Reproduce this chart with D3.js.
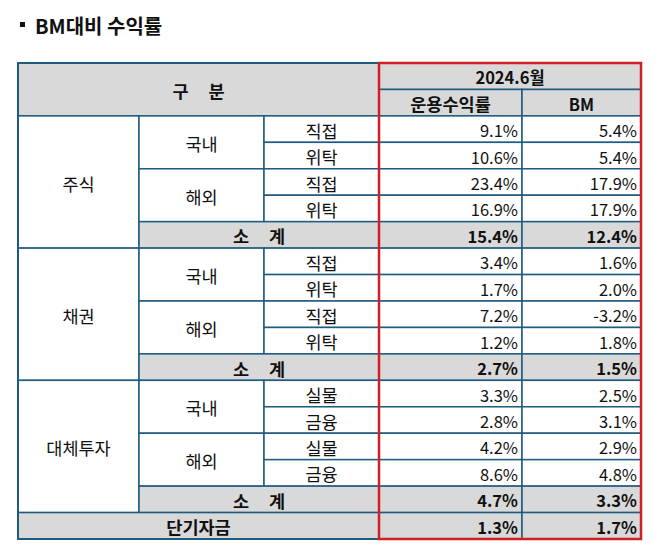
<!DOCTYPE html>
<html>
<head>
<meta charset="utf-8">
<script src="https://cdn.jsdelivr.net/npm/d3@7"></script>
<style>
  body { margin: 0; background: #fff; }
  svg { display: block; font-family: "Noto Sans CJK KR", "Noto Sans", sans-serif; }
</style>
</head>
<body>
<svg id="chart" width="658" height="552"></svg>
<script>
const title = "BM대비 수익률";
const period = "2024.6월";
const valueHeaders = ["운용수익률", "BM"];

// one entry per body row
const assetGroups = ["주식", "주식", "주식", "주식", "주식",
  "채권", "채권", "채권", "채권", "채권",
  "대체투자", "대체투자", "대체투자", "대체투자", "대체투자",
  "단기자금"];
const regions = ["국내", "국내", "해외", "해외", "소계",
  "국내", "국내", "해외", "해외", "소계",
  "국내", "국내", "해외", "해외", "소계",
  ""];
const methods = ["직접", "위탁", "직접", "위탁", "",
  "직접", "위탁", "직접", "위탁", "",
  "실물", "금융", "실물", "금융", "",
  ""];
const returns = [9.1, 10.6, 23.4, 16.9, 15.4, 3.4, 1.7, 7.2, 1.2, 2.7, 3.3, 2.8, 4.2, 8.6, 4.7, 1.3];
const bm = [5.4, 5.4, 17.9, 17.9, 12.4, 1.6, 2.0, -3.2, 1.8, 1.5, 2.5, 3.1, 2.9, 4.8, 3.3, 1.7];

const svg = d3.select("#chart");
const gray = "#d9d9d9";
const lineColor = "#1d5b80";
const red = "#d11f26";
const nb = "\u00a0";

// column edges
const colEdges = [18, 139, 264, 379, 522, 641];
const col = d3.scaleOrdinal().domain(d3.range(6)).range(colEdges);

// rows: 2 header rows + body rows
const nRows = 2 + returns.length;
const y = d3.scaleBand().domain(d3.range(nRows)).range([63, 539]);
const rh = y.bandwidth();

// title
svg.append("rect").attr("x", 20).attr("y", 22).attr("width", 5).attr("height", 5).attr("fill", "#111");
svg.append("text").attr("x", 35).attr("y", 25)
  .attr("dominant-baseline", "central")
  .attr("font-size", 20).attr("font-weight", "bold").attr("fill", "#111")
  .text(title);

// build cells
const cells = [];
function cell(c0, c1, r0, r1, text, opts) {
  cells.push(Object.assign({ c0, c1, r0, r1, text, fill: "#fff", bold: false, align: "middle" }, opts || {}));
}

cell(0, 3, 0, 2, "구" + nb.repeat(5) + "분", { fill: gray, bold: true });
cell(3, 5, 0, 1, period, { fill: gray, bold: true });
cell(3, 4, 1, 2, valueHeaders[0], { fill: gray, bold: true });
cell(4, 5, 1, 2, valueHeaders[1], { fill: gray, bold: true });

const fmt = v => v.toFixed(1) + "%";
let i = 0;
while (i < assetGroups.length) {
  const g = assetGroups[i];
  let j = i;
  while (j < assetGroups.length && assetGroups[j] === g) j++;
  const r0 = i + 2;
  if (j - i === 1) {
    cell(0, 3, r0, r0 + 1, g, { fill: gray, bold: true });
  } else {
    cell(0, 1, r0, j + 2, g);
    let k = i;
    while (k < j) {
      const reg = regions[k];
      let m = k;
      while (m < j && regions[m] === reg) m++;
      if (reg === "소계") {
        cell(1, 3, k + 2, m + 2, "소" + nb.repeat(5) + "계", { fill: gray, bold: true });
      } else {
        cell(1, 2, k + 2, m + 2, reg);
        for (let n = k; n < m; n++) cell(2, 3, n + 2, n + 3, methods[n]);
      }
      k = m;
    }
  }
  i = j;
}
returns.forEach((v, idx) => {
  const total = regions[idx] === "소계" || regions[idx] === "";
  const o = total ? { fill: gray, bold: true, align: "end" } : { align: "end" };
  cell(3, 4, idx + 2, idx + 3, fmt(v), o);
  cell(4, 5, idx + 2, idx + 3, fmt(bm[idx]), o);
});

const hangul = /[\uac00-\ud7a3]/;
const cg = svg.append("g").selectAll("g").data(cells).enter().append("g");
cg.append("rect")
  .attr("x", d => col(d.c0))
  .attr("y", d => y(d.r0))
  .attr("width", d => col(d.c1) - col(d.c0))
  .attr("height", d => y(d.r1 - 1) + rh - y(d.r0))
  .attr("fill", d => d.fill)
  .attr("stroke", lineColor)
  .attr("stroke-width", 1.5);
cg.append("text")
  .attr("x", d => d.align === "end" ? col(d.c1) - 4 : (col(d.c0) + col(d.c1)) / 2)
  .attr("y", d => (y(d.r0) + y(d.r1 - 1) + rh) / 2 + 1)
  .attr("text-anchor", d => d.align)
  .attr("dominant-baseline", "central")
  .attr("font-size", d => hangul.test(d.text) && d.text !== period ? 17.5 : 16.5)
  .attr("font-weight", d => d.bold ? "bold" : "normal")
  .attr("fill", "#111")
  .text(d => d.text);

// outer border
svg.append("rect")
  .attr("x", col(0)).attr("y", y(0))
  .attr("width", col(5) - col(0)).attr("height", y(nRows - 1) + rh - y(0))
  .attr("fill", "none").attr("stroke", lineColor).attr("stroke-width", 2);

// red highlight around the value columns
svg.append("rect")
  .attr("x", col(3)).attr("y", y(0))
  .attr("width", col(5) - col(3)).attr("height", y(nRows - 1) + rh - y(0))
  .attr("fill", "none").attr("stroke", red).attr("stroke-width", 2.5);
</script>
</body>
</html>
